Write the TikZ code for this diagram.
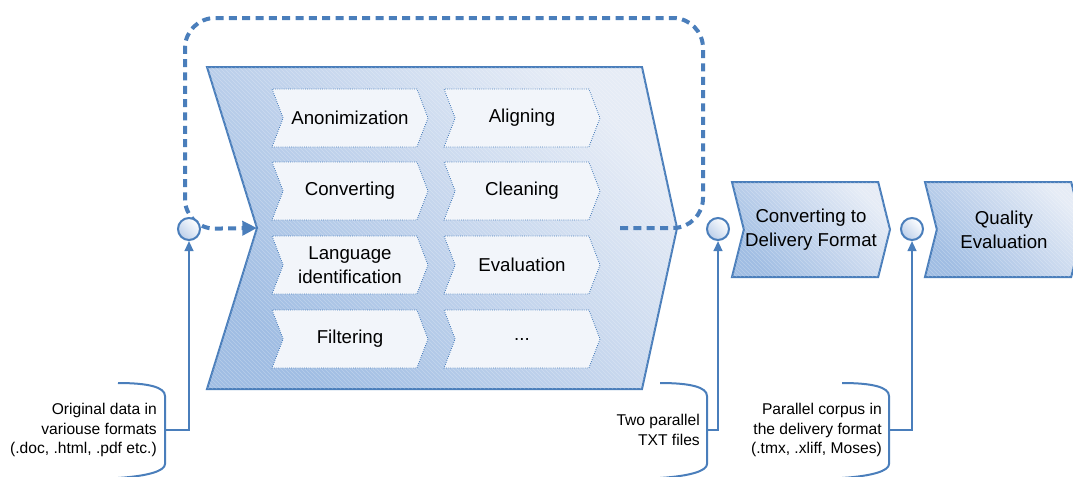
\documentclass[tikz,border=0pt]{standalone}
\usepackage{fontspec}
\setmainfont{Liberation Sans}
\usetikzlibrary{shapes.symbols,arrows.meta,patterns}

\definecolor{edge}{HTML}{4A7EBB}
\definecolor{deep}{HTML}{A0BDE3}
\definecolor{pale}{HTML}{E6ECF6}
\definecolor{paper}{HTML}{F2F5FA}
\definecolor{bubble}{HTML}{BCCFEA}

\begin{document}
\begin{tikzpicture}[x=0.75pt,y=-0.75pt]
        \tikzstyle{hatch}=[postaction={pattern=north west lines, pattern color=white, opacity=0.25}]
        \tikzstyle{task}=[shape=signal, signal to=east, signal from=west, signal pointer angle=138, draw=edge, densely dotted, line width=0.6pt, fill=paper, minimum width=117pt, minimum height=43.5pt, inner sep=0pt, align=center, font=\fontsize{14}{18}\selectfont]
        \tikzstyle{stage}=[shape=signal, signal to=east, signal from=west, signal pointer angle=152, draw=edge, line width=1.5pt, left color=deep, right color=pale, shading angle=135, hatch, minimum width=118.5pt, minimum height=71.25pt, inner sep=0pt, align=center, font=\fontsize{14}{18}\selectfont]
        \tikzstyle{port}=[circle, draw=edge, line width=1.5pt, minimum size=16.5pt, inner sep=0pt, left color=bubble, right color=white, shading angle=135]
        \tikzstyle{note}=[anchor=east, align=right, inner sep=0pt, font=\fontsize{11.7}{14.6}\selectfont]
        \tikzstyle{brace}=[draw=edge, line width=1.5pt]
        \tikzstyle{flow}=[draw=edge, line width=1.5pt, -{Triangle[length=7.5pt,width=6.5pt]}]
        \tikzstyle{loop}=[draw=edge, line width=3pt, dash pattern=on 6pt off 4pt, rounded corners=22.5pt, -{Triangle[length=11pt,width=10.5pt]}]
        \useasboundingbox (0,0) rectangle (1073,476);
        \clip (0,0) rectangle (1073,476);
        % big processing step
        \draw[draw=edge, line width=1.5pt, left color=deep, right color=pale, shading angle=135, hatch] (207,67) -- (642,67) -- (677,228) -- (642,389) -- (207,389) -- (257,228) -- cycle;
        \coordinate (notch) at (257,228);
        \coordinate (out) at (620,228);
        \node[task] (anon) at (350,118) {Anonimization};
        \node[task] (align) at (522,118) {Aligning};
        \node[task] (conv) at (350,191) {Converting};
        \node[task] (clean) at (522,191) {Cleaning};
        \node[task] (lang) at (350,265) {Language\\identification};
        \node[task] (eval) at (522,265) {Evaluation};
        \node[task] (filt) at (350,339) {Filtering};
        \node[task] (more) at (522,339) {...};
        % repeat loop
        \draw[loop] (out) -- (703,228) -- (703,18) -- (185,18) -- (185,229) -- (notch);
        \node[stage] (deliv) at (811,229.5) {Converting to\\Delivery Format};
        \node[stage] (qual) at (1004,229.5) {Quality\\Evaluation};
        \node[port] (in1) at (189,229) {};
        \node[port] (in2) at (718,229) {};
        \node[port] (in3) at (912,229) {};
        % data annotations
        \node[note] (src) at (157,430) {Original data in\\variouse formats\\(.doc, .html, .pdf etc.)};
        \node[note] (txt) at (700,430) {Two parallel\\TXT files};
        \node[note] (corp) at (882,430) {Parallel corpus in\\the delivery format\\(.tmx, .xliff, Moses)};
        \draw[brace] (118,383) .. controls (148,383) and (165,387) .. (165,396) -- (165,464) .. controls (165,471) and (148,476) .. (118,478);
        \draw[brace] (660,383) .. controls (690,383) and (707,387) .. (707,396) -- (707,464) .. controls (707,471) and (690,476) .. (660,478);
        \draw[brace] (842,383) .. controls (872,383) and (889,387) .. (889,396) -- (889,464) .. controls (889,471) and (872,476) .. (842,478);
        \coordinate (b1) at (165,430);
        \coordinate (b2) at (707,430);
        \coordinate (b3) at (889,430);
        \draw[flow] (b1) -| (in1);
        \draw[flow] (b2) -| (in2);
        \draw[flow] (b3) -| (in3);
\end{tikzpicture}
\end{document}
